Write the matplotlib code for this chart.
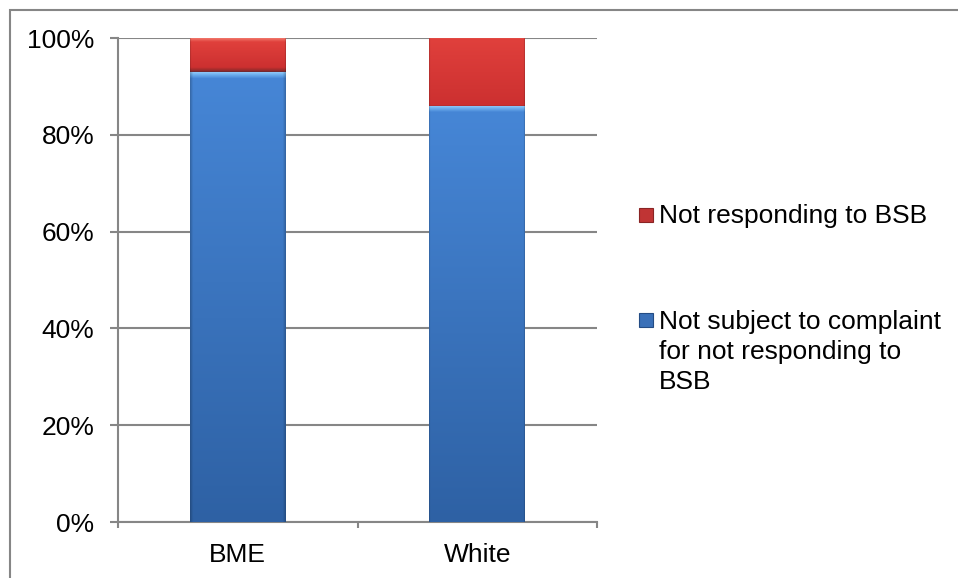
import numpy as np
import matplotlib
matplotlib.use('Agg')
import matplotlib.pyplot as plt
from matplotlib.patches import Rectangle
from matplotlib.colors import to_rgb

# Share of barristers by ethnicity (fractions of 1)
categories = ['BME', 'White']
not_subject = [0.93, 0.86]
not_responding = [0.07, 0.14]
series_labels = ['Not responding to BSB',
                 'Not subject to complaint\nfor not responding to\nBSB']
y_ticks = [0, 0.2, 0.4, 0.6, 0.8, 1.0]
y_tick_labels = ['0%', '20%', '40%', '60%', '80%', '100%']

W, H = 958, 578
DPI = 100
GRAY = '#868686'
FS = 19

plt.rcParams['font.family'] = ['Liberation Sans', 'DejaVu Sans']
plt.rcParams['font.size'] = FS


def px(x, y):
    '''Pixel position (from top left) to figure fraction.'''
    return x / W, 1 - y / H


def profile(stops, n):
    '''Build an n-row colour column from (pixel-from-top, colour) stops.'''
    rows = np.arange(n)
    pos = [s[0] if s[0] >= 0 else n + s[0] for s in stops]
    cols = np.array([to_rgb(s[1]) for s in stops])
    out = np.zeros((n, 3))
    for c in range(3):
        out[:, c] = np.interp(rows, pos, cols[:, c])
    return out


def shade_bar(ax, patch, stops):
    '''Paint a gradient inside a bar patch, darker towards the sides.'''
    x0, y0 = patch.get_x(), patch.get_y()
    w, h = patch.get_width(), patch.get_height()
    (p0x, p0y), (p1x, p1y) = ax.transData.transform([(x0, y0), (x0 + w, y0 + h)])
    nrow = max(int(round(p1y - p0y)), 4)
    ncol = max(int(round(p1x - p0x)), 4)
    col = profile(stops, nrow)
    xs = np.arange(ncol)
    edge = np.minimum(xs, ncol - 1 - xs)
    side = 0.78 + 0.22 * np.clip(edge / 6.0, 0, 1)
    img = col[:, None, :] * side[None, :, None]
    im = ax.imshow(img, extent=(x0, x0 + w, y0, y0 + h), origin='upper',
                   aspect='auto', interpolation='bilinear', zorder=3)
    im.set_clip_path(patch)


fig = plt.figure(figsize=(W / DPI, H / DPI), dpi=DPI)
fig.patch.set_facecolor('white')

# Chart frame (runs off the right and bottom edges)
l, t = px(10, 10)
fig.patches.append(Rectangle((l, -0.2), 1.2, t + 0.2, transform=fig.transFigure,
                             fill=False, edgecolor=GRAY, linewidth=1.5))

x0, y1 = px(118, 38)
x1, y0 = px(597, 522)
ax = fig.add_axes([x0, y0, x1 - x0, y1 - y0])

x = np.arange(len(categories))
width = 0.4
blue_bars = ax.bar(x, not_subject, width, color='#3B78C6', zorder=2)
red_bars = ax.bar(x, not_responding, width, bottom=not_subject, color='#D63838', zorder=2)

blue_stops = [(0, '#9ACFFA'), (3, '#6FB0EE'), (7, '#4686D6'), (-1, '#2E61A4')]
red_stops = [(0, '#F07468'), (4, '#E0403C'), (-6, '#CC3030'), (-2, '#8E2A2A'), (-1, '#6E2A34')]
for p in blue_bars:
    shade_bar(ax, p, blue_stops)
for p in red_bars:
    shade_bar(ax, p, red_stops)

ax.set_xlim(-0.5, 1.5)
ax.set_ylim(0, 1)

ax.set_yticks(y_ticks)
ax.set_yticklabels(y_tick_labels)
ax.yaxis.grid(True, color=GRAY, linewidth=1.5, zorder=0)
ax.set_axisbelow(True)

# Category boundaries get the ticks, category centres get the labels
ax.set_xticks([-0.5, 0.5, 1.5])
ax.set_xticklabels(['', '', ''])
ax.set_xticks(x, minor=True)
ax.set_xticklabels(categories, minor=True)
ax.tick_params(axis='x', which='major', length=4, width=1.5, color=GRAY, direction='out')
ax.tick_params(axis='x', which='minor', length=0, pad=15)
ax.tick_params(axis='y', length=6, width=1.5, color=GRAY, direction='out', pad=11)

for side in ['top', 'right']:
    ax.spines[side].set_visible(False)
for side in ['left', 'bottom']:
    ax.spines[side].set_color(GRAY)
    ax.spines[side].set_linewidth(1.5)

# Legend, drawn by hand: one line of text at a time
legend_items = [
    (series_labels[0], 215, 223, '#C03434', '#8A2424'),
    (series_labels[1], 320, 329, '#3A70B8', '#244C84'),
]
for label, marker_y, baseline_y, face, edge in legend_items:
    mx, my = px(639, marker_y + 7)
    fig.patches.append(Rectangle((mx, my), 14 / W, 14 / H, transform=fig.transFigure,
                                 facecolor=face, edgecolor=edge, linewidth=0.8))
    for i, line in enumerate(label.split('\n')):
        tx, ty = px(659, baseline_y + i * 30)
        fig.text(tx, ty, line, va='baseline', ha='left', fontsize=FS)

fig.savefig('out.png', dpi=DPI)
